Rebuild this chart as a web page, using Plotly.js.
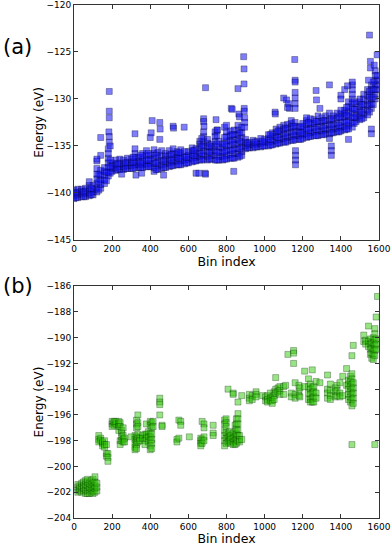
<!DOCTYPE html>
<html>
<head>
<meta charset="utf-8">
<script src="https://cdn.plot.ly/plotly-3.0.1.min.js"></script>
<style>
  html, body { margin: 0; padding: 0; background: #fff; }
  #plot { width: 392px; height: 546px; }
</style>
</head>
<body>
<div id="plot"></div>
<script>
// panel (a): bin columns and the energies read in each one
var binsA = [0, 20, 40, 60, 80, 100, 120, 140, 160, 180, 200, 220, 240, 260, 280, 300,
             320, 340, 360, 380, 400, 420, 440, 460, 480, 500, 520, 540, 560, 580, 600,
             620, 640, 660, 680, 700, 720, 740, 760, 780, 800, 820, 840, 860, 880, 900,
             920, 940, 960, 980, 1000, 1020, 1040, 1060, 1080, 1100, 1120, 1140, 1160,
             1180, 1200, 1220, 1240, 1260, 1280, 1300, 1320, 1340, 1360, 1380, 1400,
             1420, 1440, 1460, 1480, 1500, 1520, 1540, 1560, 1580, 1590];
var energyA = [
  [-140.6,-140.3,-140.0,-139.7],
  [-140.5,-140.2,-139.9,-139.6],
  [-140.4,-140.1,-139.8,-139.6],
  [-140.4,-140.1,-139.8,-139.5],
  [-140.3,-140.0,-139.6,-139.2,-138.8],
  [-140.2,-139.9,-139.6,-139.2],
  [-139.9,-139.5,-139.0,-138.5,-138.0,-137.4,-136.6],
  [-139.5,-139.1,-138.6,-138.1,-137.6],
  [-139.0,-138.6,-138.1,-137.7,-137.3],
  [-138.2,-137.8,-137.3,-136.8,-136.3,-135.8,-135.3],
  [-137.7,-137.4,-137.1,-136.8],
  [-137.6,-137.3,-136.9,-136.5],
  [-137.5,-137.2,-136.8,-136.4],
  [-137.5,-137.2,-136.9,-136.5],
  [-137.4,-137.1,-136.7,-136.3],
  [-137.4,-137.1,-136.8,-136.4],
  [-137.3,-137.0,-136.6,-136.2,-135.8,-135.3],
  [-137.3,-137.0,-136.6,-136.2],
  [-137.3,-137.0,-136.6,-136.2,-135.8],
  [-137.2,-136.9,-136.5,-136.0,-135.5],
  [-137.2,-136.9,-136.5,-136.0],
  [-137.7,-137.3,-136.8,-136.3,-135.8,-135.4],
  [-137.5,-137.1,-136.7,-136.2,-135.7],
  [-137.4,-137.0,-136.5,-136.0,-135.5],
  [-137.3,-136.9,-136.5,-136.1,-135.8],
  [-137.2,-136.8,-136.4,-136.0,-135.5],
  [-137.1,-136.7,-136.3,-135.8,-135.3],
  [-137.0,-136.6,-136.2,-135.9,-135.6],
  [-137.0,-136.6,-136.2,-135.8,-135.4],
  [-136.9,-136.5,-136.1,-135.6],
  [-136.8,-136.4,-136.0,-135.6],
  [-136.7,-136.3,-135.9,-135.5,-135.2],
  [-136.6,-136.2,-135.8,-135.3],
  [-136.5,-136.1,-135.7,-135.2,-134.8,-134.5],
  [-136.4,-136.0,-135.5,-135.0,-134.5,-134.0,-133.5],
  [-136.5,-136.1,-135.6,-135.1,-134.7,-134.3],
  [-136.4,-136.0,-135.6,-135.2,-134.8],
  [-136.5,-136.0,-135.5,-135.0,-134.5,-134.0,-133.5],
  [-136.5,-136.1,-135.6,-135.1,-134.5],
  [-136.5,-136.1,-135.7,-135.2,-134.8],
  [-136.4,-136.0,-135.5,-135.0,-134.5,-134.0,-133.5],
  [-136.3,-135.9,-135.4,-134.9,-134.4,-133.9,-133.4],
  [-136.3,-135.8,-135.3,-134.8,-134.3,-133.8,-133.3],
  [-136.2,-135.8,-135.3,-134.8,-134.3,-133.8,-133.3,-132.8],
  [-136.0,-135.6,-135.1,-134.6,-134.1,-133.6,-133.0],
  [-135.3,-135.0,-134.6,-134.3],
  [-135.2,-134.9,-134.6],
  [-135.2,-134.8,-134.4],
  [-135.1,-134.8,-134.5],
  [-135.1,-134.7,-134.2],
  [-135.0,-134.6,-134.3],
  [-135.0,-134.6,-134.2,-133.8],
  [-134.9,-134.5,-134.0,-133.6],
  [-134.8,-134.4,-134.0,-133.6,-133.2],
  [-134.7,-134.3,-133.8,-133.4,-133.0],
  [-134.6,-134.2,-133.7,-133.2,-132.8],
  [-134.5,-134.1,-133.6,-133.1,-132.7],
  [-134.4,-134.0,-133.5,-133.0,-132.6,-132.3],
  [-134.3,-133.9,-133.4,-132.9,-132.5],
  [-134.3,-133.9,-133.5,-133.0],
  [-134.2,-133.8,-133.4,-133.0,-132.6],
  [-134.1,-133.7,-133.2,-132.7,-132.3,-132.0],
  [-134.0,-133.6,-133.1,-132.6,-132.1],
  [-133.9,-133.5,-133.0,-132.6,-132.2],
  [-133.9,-133.4,-132.9,-132.4,-131.8],
  [-133.8,-133.4,-132.9,-132.4,-132.0],
  [-133.7,-133.3,-132.8,-132.3,-131.8],
  [-134.2,-133.7,-133.2,-132.7,-132.2,-131.5],
  [-133.6,-133.2,-132.7,-132.2,-131.8],
  [-133.5,-133.1,-132.6,-132.0,-131.5],
  [-133.4,-133.0,-132.5,-132.0,-131.6,-131.2],
  [-133.3,-132.9,-132.4,-131.9,-131.5,-131.2],
  [-133.2,-132.8,-132.3,-131.8,-131.3,-130.8,-130.3],
  [-133.0,-132.5,-132.0,-131.5,-131.0,-130.5,-130.0,-129.5,-129.0,-128.5,-128.2],
  [-132.4,-132.0,-131.6,-131.1,-130.5],
  [-132.2,-131.8,-131.3,-130.8,-130.3,-130.0],
  [-132.0,-131.6,-131.1,-130.6,-130.0,-129.5],
  [-131.7,-131.2,-130.7,-130.2,-129.6,-129.0],
  [-131.0,-130.5,-130.0,-129.5,-129.0,-128.5],
  [-130.0,-129.5,-129.0,-128.5,-128.0,-127.5,-127.0],
  [-129.0,-128.5,-128.0,-127.5]
];
// in-between columns (odd tens) that fill the band of panel (a)
var midBinsA = [10, 50, 90, 130, 170, 190, 230, 270, 310, 350, 390, 430, 470, 510, 550,
                590, 630, 670, 710, 750, 790, 830, 870, 910, 950, 990, 1030, 1070, 1110,
                1150, 1190, 1230, 1270, 1310, 1350, 1390, 1430, 1470, 1510, 1550, 1570];
var midEA = [
  [-140.5,-140.0], [-140.4,-139.9], [-140.2,-139.5], [-139.7,-138.8,-138.0], [-138.7,-137.8],
  [-137.9,-137.2,-136.5], [-137.5,-136.9], [-137.4,-136.8], [-137.4,-136.7,-136.2],
  [-137.3,-136.8,-136.0], [-137.2,-136.5,-135.8], [-137.5,-136.8,-136.0], [-137.3,-136.6],
  [-137.1,-136.5,-135.9], [-137.0,-136.3,-135.7], [-136.8,-136.2], [-136.6,-136.0,-135.5],
  [-136.5,-135.8,-135.0,-134.2], [-136.4,-135.7,-135.0], [-136.5,-135.7,-134.8,-133.9],
  [-136.4,-135.6,-134.8,-134.1], [-136.3,-135.5,-134.6,-133.8], [-136.1,-135.3,-134.5,-133.6],
  [-135.2,-134.7], [-135.1,-134.6], [-135.0,-134.5], [-134.9,-134.3,-133.8],
  [-134.7,-134.1,-133.4], [-134.6,-133.9,-133.1], [-134.4,-133.7,-132.9],
  [-134.3,-133.6,-132.9], [-134.0,-133.3,-132.5], [-133.9,-133.2,-132.4],
  [-133.8,-133.1,-132.3], [-133.6,-132.9,-132.1], [-133.5,-132.8,-131.9],
  [-133.2,-132.5,-131.7,-130.9], [-132.6,-131.9,-131.1,-130.3], [-132.1,-131.4,-130.6],
  [-131.4,-130.6,-129.8,-129.2], [-130.6,-129.8,-129.0,-128.2]
];
// isolated points of panel (a)
var strayBinA = [140, 140, 120, 185, 185, 185, 183, 185, 185, 190, 250, 320, 325, 355, 400,
                 405, 410, 450, 452, 450, 470, 520, 522, 578, 640, 655, 680, 680, 682, 688,
                 690, 690, 745, 750, 752, 790, 800, 825, 830, 838, 860, 865, 868, 890, 892,
                 892, 893, 893, 895, 895, 895, 1055, 1056, 1100, 1115, 1125, 1130, 1120,
                 1158, 1160, 1160, 1160, 1160, 1160, 1160, 1162, 1162, 1162, 1162, 1270,
                 1272, 1290, 1340, 1350, 1350, 1350, 1400, 1400, 1420, 1435, 1440, 1550,
                 1555, 1555, 1545, 1560, 1560, 1575, 1590];
var strayEA = [-134.1, -136.0, -136.4, -129.2, -131.3, -132.0, -133.5, -134.0, -134.6, -135.0,
               -138.0, -133.7, -138.1, -137.9, -134.1, -133.6, -132.3, -132.5, -133.2, -134.3,
               -138.1, -132.9, -133.1, -133.0, -137.9, -137.9, -132.1, -132.4, -132.9, -137.9,
               -128.8, -138.0, -132.2, -133.3, -133.3, -133.0, -132.8, -131.0, -131.1, -137.7,
               -128.9, -131.6, -131.9, -125.5, -126.8, -128.4, -131.0, -131.3, -132.0, -132.5,
               -133.0, -131.4, -131.6, -129.9, -130.1, -130.5, -131.0, -130.9, -125.8, -128.0,
               -128.2, -129.3, -129.9, -130.5, -131.0, -135.5, -136.0, -136.5, -137.0, -129.1,
               -130.1, -131.0, -128.5, -135.0, -135.5, -136.0, -129.6, -130.0, -129.0, -128.6,
               -134.3, -123.2, -126.0, -126.7, -128.0, -133.2, -133.7, -126.4, -125.3];

// panel (b)
var binsB = [20, 30, 40, 50, 60, 70, 80, 90, 100, 110, 120, 130, 140, 150, 160, 170, 178,
             200, 210, 220, 235, 242, 250, 258, 265, 300, 320, 328, 335, 345, 360, 372, 380,
             390, 400, 408, 415, 450, 462, 540, 550, 560, 605, 665, 672, 682, 730, 790, 798,
             808, 815, 822, 835, 845, 852, 860, 868, 880, 920, 935, 955, 990, 1005, 1015,
             1030, 1040, 1050, 1058, 1070, 1080, 1100, 1110, 1122, 1140, 1152, 1160, 1180,
             1185, 1210, 1230, 1240, 1250, 1258, 1270, 1290, 1330, 1345, 1370, 1380, 1395,
             1410, 1430, 1440, 1450, 1458, 1465, 1520, 1530, 1545, 1555, 1562, 1570, 1578,
             1585, 1592];
var energyB = [
  [-202.0,-201.8,-201.6,-201.4], [-201.9,-201.7,-201.5], [-202.0,-201.6,-201.3],
  [-201.9,-201.7,-201.5,-201.2], [-202.1,-201.8,-201.4,-201.1],
  [-202.1,-201.9,-201.5,-201.2,-201.0], [-202.1,-201.8,-201.6,-201.3],
  [-202.0,-201.7,-201.4,-201.1], [-202.1,-201.9,-201.6,-201.3,-201.0],
  [-202.0,-201.7,-201.5,-201.2,-200.8], [-201.9,-201.6,-201.3],
  [-197.6,-197.9,-198.1], [-197.8,-198.0], [-198.2,-198.4,-198.1], [-198.0,-198.3,-198.5],
  [-198.3,-199.0,-199.2], [-199.0,-199.3,-199.6],
  [-196.5,-196.7,-196.9], [-196.6,-196.8,-196.5], [-196.7,-196.5],
  [-196.5,-196.7,-196.9,-197.2], [-196.6,-196.9,-198.0,-198.3],
  [-197.4,-197.7,-198.0,-197.2], [-197.6,-197.9,-198.1,-197.0], [-197.8,-198.1],
  [-197.7], [-197.6,-197.9,-198.2,-198.5,-198.7],
  [-196.4,-196.7,-197.0,-197.7,-198.0,-198.3,-198.6],
  [-196.0,-196.6,-196.9,-197.5,-197.8,-198.1], [-197.8,-198.0], [-197.6,-197.8],
  [-197.5,-198.0,-198.3], [-196.7,-197.5,-197.8], [-197.3,-197.7,-198.1],
  [-196.5,-196.8,-197.4,-197.7,-198.0,-198.4,-198.7],
  [-196.6,-197.0,-197.5,-197.9,-198.2,-198.6], [-196.5,-196.9],
  [-194.7,-195.0,-195.2,-196.0], [-196.8,-196.9],
  [-197.9,-198.1], [-196.4,-197.8], [-196.5,-196.8], [-197.7],
  [-197.8,-198.0,-198.2,-198.4], [-196.5,-197.9,-198.2], [-196.7,-197.0,-197.7,-198.0],
  [-196.8,-197.4,-197.6],
  [-196.4,-196.7,-197.2,-197.6,-198.0,-198.4], [-196.3,-196.6,-196.9,-197.4,-197.8,-198.2],
  [-197.5,-197.8,-198.1,-194.0], [-197.3,-197.7,-198.0], [-197.6,-197.9,-198.2],
  [-197.4,-197.8,-198.1,-198.3,-194.3,-194.4], [-196.8,-197.3,-197.7,-198.0,-198.3],
  [-196.3,-196.7,-197.1,-197.5,-197.9,-198.2], [-195.9,-196.3,-196.7,-197.2,-197.6,-198.0,-195.0],
  [-197.6,-197.9,-198.1], [-197.9,-194.5],
  [-194.4,-194.7,-194.9], [-194.5,-194.8], [-194.2,-194.4,-194.6], [-194.5],
  [-194.6,-194.9], [-194.5,-194.8,-195.0], [-194.3,-194.7,-194.9], [-194.6,-194.9,-195.1],
  [-194.2,-194.5,-194.8], [-193.1,-194.0,-194.3], [-193.9,-194.2], [-193.8,-194.1,-194.4],
  [-193.8,-194.4], [-193.7], [-191.3], [-194.3,-194.6], [-191.0,-191.2,-192.0],
  [-193.5,-194.4,-194.7], [-193.7,-194.2,-194.5], [-193.9,-194.6], [-192.6,-193.8],
  [-193.2,-193.8,-194.3,-194.8], [-193.6,-194.0,-194.4,-194.8,-195.0],
  [-192.5,-193.9,-194.3,-194.7,-195.0], [-193.8,-194.2,-194.6,-195.0], [-193.4,-194.3,-194.7],
  [-193.5], [-192.9,-194.0,-194.3,-194.7], [-193.6,-194.1,-194.5,-194.8],
  [-193.9,-194.2,-194.6], [-193.7,-194.1,-194.5], [-193.5,-194.3,-194.6], [-193.0,-194.5],
  [-192.4,-193.7], [-193.3,-193.6,-194.0,-194.4,-194.8],
  [-193.0,-193.4,-193.8,-194.2,-194.6,-195.0],
  [-191.4,-192.8,-193.2,-193.6,-194.0,-194.4,-194.8,-195.3,-198.3],
  [-190.6,-193.5,-193.9,-194.3,-194.7,-195.1],
  [-189.8,-190.3], [-190.2,-190.5], [-189.1,-190.3,-190.7], [-190.1,-190.5,-190.9,-191.3],
  [-190.4,-190.8,-191.2,-191.6], [-190.0,-190.4,-190.9,-191.3,-191.7],
  [-189.3,-189.7,-190.2,-190.6,-191.0,-191.4,-198.3], [-188.4,-190.1,-190.5,-190.9],
  [-186.8]
];

var xTicks = [0, 200, 400, 600, 800, 1000, 1200, 1400, 1600];

function flatten(bins, energies) {
  var xs = [], ys = [];
  for (var i = 0; i < bins.length; i++) {
    for (var j = 0; j < energies[i].length; j++) {
      xs.push(bins[i]);
      ys.push(energies[i][j]);
    }
  }
  return {x: xs, y: ys};
}

var a = flatten(binsA, energyA);
var am = flatten(midBinsA, midEA);
var b = flatten(binsB, energyB);

var blueMarker = {symbol: 'square', size: 6, color: 'rgba(20,20,250,0.55)',
                  line: {color: 'rgba(0,0,40,0.55)', width: 0.6}};
var greenMarker = {symbol: 'square', size: 6, color: 'rgba(50,200,10,0.5)',
                   line: {color: 'rgba(0,40,0,0.5)', width: 0.6}};

var data = [
  {x: a.x.concat(am.x, strayBinA), y: a.y.concat(am.y, strayEA), type: 'scatter',
   mode: 'markers', marker: blueMarker, xaxis: 'x', yaxis: 'y', hoverinfo: 'skip'},
  {x: b.x, y: b.y, type: 'scatter', mode: 'markers',
   marker: greenMarker, xaxis: 'x2', yaxis: 'y2', hoverinfo: 'skip'}
];

var tickFont = {family: 'DejaVu Sans', size: 9, color: '#000'};
var axisBase = {
  showline: true, linecolor: '#333', linewidth: 1, mirror: 'ticks',
  ticks: 'inside', ticklen: 4, tickcolor: '#333', tickfont: tickFont,
  showgrid: false, zeroline: false, fixedrange: true, automargin: false
};

function ax(extra) {
  var o = {};
  for (var k in axisBase) o[k] = axisBase[k];
  for (var k2 in extra) o[k2] = extra[k2];
  return o;
}

var layout = {
  width: 392, height: 546,
  margin: {l: 74, r: 13, t: 5, b: 28},
  paper_bgcolor: '#fff', plot_bgcolor: '#fff',
  showlegend: false,
  font: {family: 'DejaVu Sans', color: '#000'},
  xaxis: ax({anchor: 'y', range: [0, 1600], tickvals: xTicks,
             title: {text: 'Bin index', font: {size: 12.5}, standoff: 0}}),
  yaxis: ax({domain: [0.542, 1], range: [-145, -120], dtick: 5,
             title: {text: 'Energy (eV)', font: {size: 12}, standoff: 0}}),
  xaxis2: ax({anchor: 'y2', range: [0, 1600], tickvals: xTicks,
              title: {text: 'Bin index', font: {size: 12.5}, standoff: 0}}),
  yaxis2: ax({anchor: 'x2', domain: [0, 0.452], range: [-204, -186], dtick: 2,
              title: {text: 'Energy (eV)', font: {size: 12}, standoff: 0}}),
  annotations: [
    {text: '(a)', xref: 'paper', yref: 'paper', x: -0.238, y: 0.945, xanchor: 'left',
     showarrow: false, font: {size: 21, family: 'DejaVu Sans'}},
    {text: '(b)', xref: 'paper', yref: 'paper', x: -0.238, y: 0.452, xanchor: 'left',
     showarrow: false, font: {size: 21, family: 'DejaVu Sans'}}
  ]
};

Plotly.newPlot('plot', data, layout, {displayModeBar: false, staticPlot: true});
</script>
</body>
</html>
